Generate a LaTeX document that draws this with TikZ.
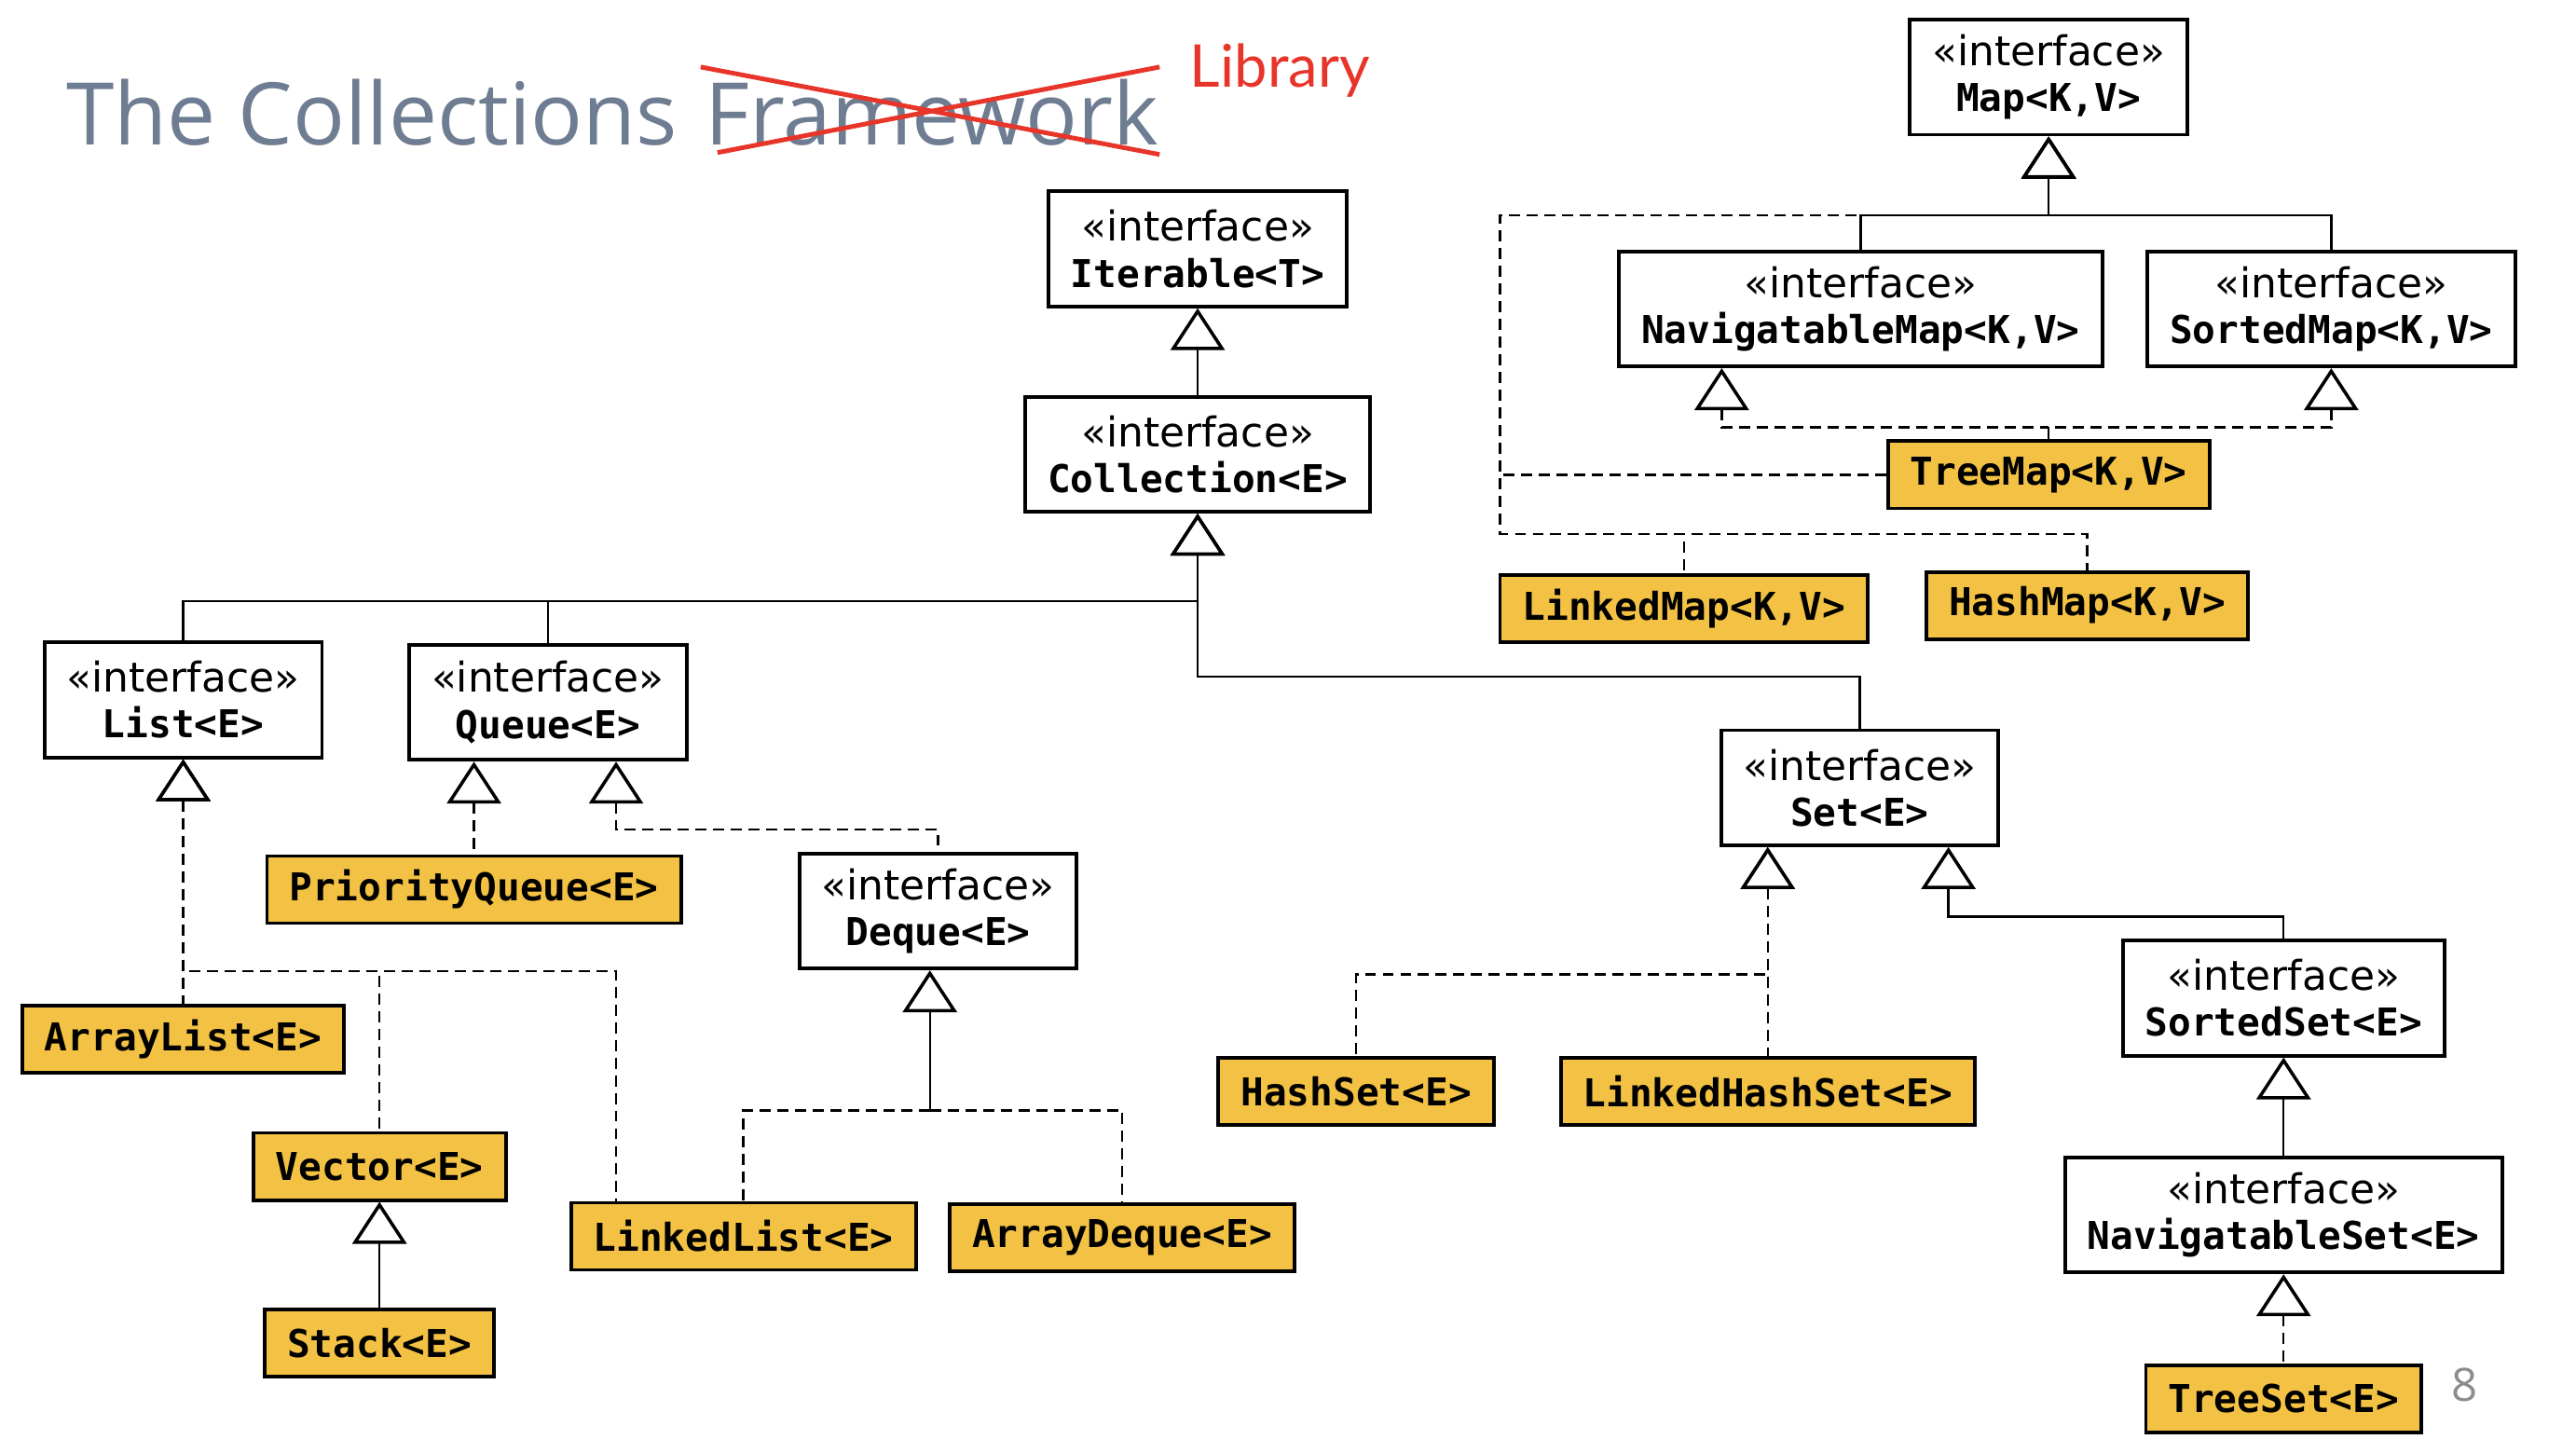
\documentclass[tikz,border=0pt]{standalone}
\usepackage{fontspec}
\setmainfont{DejaVu Sans}
\newfontfamily\codefont{DejaVu Sans Mono}
\newfontfamily\titlefont{Open Sans}
\newfontfamily\handfont{Lato}
\usetikzlibrary{arrows.meta,positioning}
\definecolor{jYellow}{HTML}{F3C244}
\definecolor{jSlate}{HTML}{6E7D91}
\definecolor{jRed}{HTML}{E8352A}
\definecolor{jGray}{HTML}{8C8C8C}
\newcommand{\ifc}{{\normalfont\fontsize{12.5}{14}\selectfont «interface»}\\}

\begin{document}
\begin{tikzpicture}[x=0.017628cm,y=-0.017628cm,>={Triangle[open,fill=white,length=0.45cm,width=0.58cm,line width=1pt]}]
		\tikzstyle{BOX} = [draw=black, line width=1.1pt, inner xsep=0.24cm, inner ysep=0pt, align=center, font=\codefont\bfseries\fontsize{11.7}{14}\selectfont]
		\tikzstyle{iface} = [BOX, fill=white, minimum height=1.234cm]
		\tikzstyle{cls} = [BOX, fill=jYellow, minimum height=0.72cm]
		\tikzstyle{ext} = [<-, line width=0.7pt]
		\tikzstyle{impl} = [<-, line width=0.7pt, dash pattern=on 3.4pt off 2pt]
		\tikzstyle{plain} = [line width=0.7pt, dash pattern=on 3.4pt off 2pt]
		\tikzstyle{TITLE} = [inner sep=0pt, text=jSlate, font=\titlefont\fontsize{26.4}{30}\selectfont]

		\useasboundingbox (0,0) rectangle (1568,884);

		% title
		\node[TITLE, anchor=base west] (ttl) at (40,88) {The Collections};
		\node[TITLE, base right=8pt of ttl] (fw) {Framework};
		\draw[jRed, line width=1.4pt] ([xshift=-0.04cm,yshift=0.12cm]fw.north west) -- ([yshift=-0.09cm]fw.south east);
		\draw[jRed, line width=1.4pt] ([xshift=0.14cm,yshift=-0.07cm]fw.south west) -- ([yshift=0.12cm]fw.north east);
		\node[inner sep=0pt, text=jRed, font=\handfont\fontsize{18}{20}\selectfont, anchor=base west] (lib) at (724,53) {Library};
		\node[text=jGray, font=\titlefont\fontsize{14}{16}\selectfont] (pg) at (1500,843) {8};

		% maps
		\node[iface] (iMap) at 		(1247,47) {\ifc Map<K,V>};
		\node[iface] (iNMap) at 	(1132.5,188) {\ifc NavigatableMap<K,V>};
		\node[iface] (iSMap) at 	(1419,188) {\ifc SortedMap<K,V>};
		\node[cls] (cTMap) at 		(1247,289) {TreeMap<K,V>};
		\node[cls] (cLMap) at 		(1025,370.5) {LinkedMap<K,V>};
		\node[cls] (cHMap) at 		(1270.5,368.5) {HashMap<K,V>};

		% collections
		\node[iface] (iIter) at 	(729,151.5) {\ifc Iterable<T>};
		\node[iface] (iColl) at 	(729,276.5) {\ifc Collection<E>};
		\node[iface] (iList) at 	(111.5,426) {\ifc List<E>};
		\node[iface] (iQueue) at 	(333.5,427.5) {\ifc Queue<E>};
		\node[cls] (cPQueue) at 	(288.5,541.5) {PriorityQueue<E>};
		\node[iface] (iDeque) at 	(571,554.5) {\ifc Deque<E>};
		\node[cls] (cAList) at 		(111.5,632.5) {ArrayList<E>};
		\node[cls] (cVector) at 	(231,710) {Vector<E>};
		\node[cls] (cStack) at 		(231,817.5) {Stack<E>};
		\node[cls] (cLList) at 		(452.5,752.5) {LinkedList<E>};
		\node[cls] (cADeque) at 	(683,753.5) {ArrayDeque<E>};
		\node[iface] (iSet) at 		(1132,479.5) {\ifc Set<E>};
		\node[cls] (cHSet) at 		(825.5,664.5) {HashSet<E>};
		\node[cls] (cLHSet) at 		(1076,664.5) {LinkedHashSet<E>};
		\node[iface] (iSSet) at 	(1390,607.5) {\ifc SortedSet<E>};
		\node[iface] (iNSet) at 	(1390,739.5) {\ifc NavigatableSet<E>};
		\node[cls] (cTSet) at 		(1390,851.5) {TreeSet<E>};

		\coordinate (mJ) at (1247,131);
		\coordinate (mL) at (913,131);
		\coordinate (mB) at (913,325);
		\coordinate (tJ) at (1247,260);
		\coordinate (tL) at (1048,260);
		\coordinate (tR) at (1419,260);
		\coordinate (cJ) at (729,366);
		\coordinate (sJ) at (729,412);
		\coordinate (qJ) at (375,505);
		\coordinate (lJ) at (111.5,591);
		\coordinate (lK) at (375,591);
		\coordinate (dJ) at (566,676);
		\coordinate (hJ) at (1076,593);
		\coordinate (sR) at (1186,558);

		\draw[ext] (iMap.south) -- (mJ) -| (iNMap.north);
		\draw[ext] (iMap.south) -- (mJ) -| (iSMap.north);
		\draw[impl] (iMap.south) -- (mJ) -- (mL) |- (cTMap.west);
		\draw[impl] (iMap.south) -- (mJ) -- (mL) -- (mB) -| (cLMap.north);
		\draw[impl] (iMap.south) -- (mJ) -- (mL) -- (mB) -| (cHMap.north);
		\draw[impl] (iNMap.south -| tL) -- (tL) -- (tJ);
		\draw[impl] (iSMap.south) -- (tR) -- (tJ);
		\draw[line width=0.7pt] (tJ) -- (cTMap.north);

		\draw[ext] (iIter.south) -- (iColl.north);
		\draw[ext] (iColl.south) -- (cJ) -| (iList.north);
		\draw[ext] (iColl.south) -- (cJ) -| (iQueue.north);
		\draw[ext] (iColl.south) -- (sJ) -| (iSet.north);

		\draw[impl] (iQueue.south -| cPQueue.north) -- (cPQueue.north);
		\draw[impl] (iQueue.south -| qJ) -- (qJ) -| (iDeque.north);
		\draw[impl] (iList.south) -- (cAList.north);
		\draw[impl] (iList.south) -- (lJ) -| (cVector.north);
		\draw[impl] (iList.south) -- (lJ) -- (lK) -- (cLList.north -| lK);
		\draw[ext] (cVector.south) -- (cStack.north);
		\draw[ext] (iDeque.south -| dJ) -- (dJ);
		\draw[plain] (dJ) -| (cLList.north);
		\draw[plain] (dJ) -| (cADeque.north);

		\draw[impl] (iSet.south -| hJ) -- (hJ) -| (cHSet.north);
		\draw[impl] (iSet.south -| hJ) -- (cLHSet.north);
		\draw[ext] (iSet.south -| sR) -- (sR) -| (iSSet.north);
		\draw[ext] (iSSet.south) -- (iNSet.north);
		\draw[impl] (iNSet.south) -- (cTSet.north);
\end{tikzpicture}
\end{document}
